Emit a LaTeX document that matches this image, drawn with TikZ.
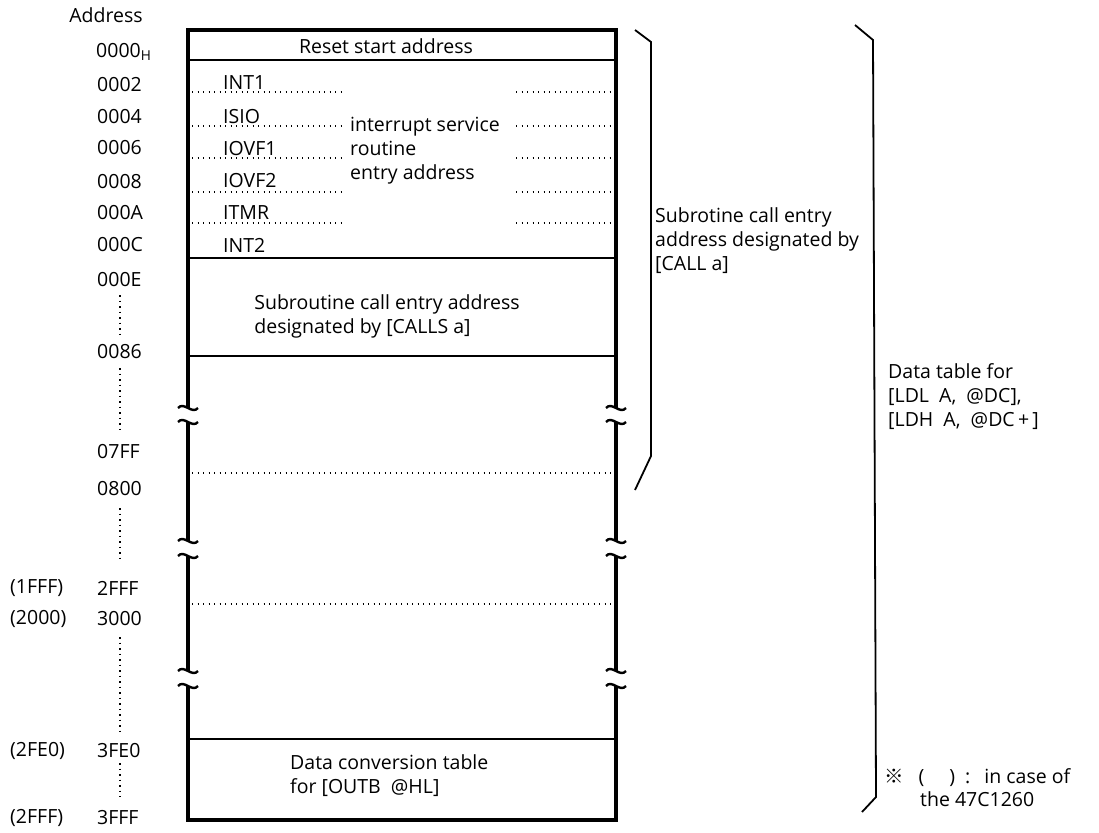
\documentclass[tikz,border=0pt]{standalone}
\usepackage{fontspec}
\setmainfont{Open Sans}
\newfontfamily\cjkfont{Noto Sans CJK JP}

\tikzset{
  memframe/.style={line width=3.2pt, line join=miter},
  rowline/.style={line width=1.5pt},
  breakmark/.style={line width=2.4pt},
  dotline/.style={line width=1.3pt, dash pattern=on 1.3pt off 4.2pt},
  addrdots/.style={line width=1.5pt, dash pattern=on 1.5pt off 4pt},
  bracket/.style={line width=1.8pt},
  lbl/.style={inner sep=0pt, font=\fontsize{19.5}{24}\selectfont},
}

\begin{document}
\begin{tikzpicture}[x=1pt, y=-1pt]
    \useasboundingbox (0,0) rectangle (1099,832);

    % Address column
    \node[lbl] (addr) at (106,15) {Address};
    \node[lbl, anchor=west] (a0000) at (96,52) {0000\textsubscript{H}};
    \foreach \y/\t in {85/0002, 117/0004, 148/0006, 182/0008, 213/000A, 245/000C,
                       280/000E, 352/0086, 452/07FF, 489/0800, 588/2FFF, 619/3000,
                       751/3FE0, 818/3FFF}
        \node[lbl, anchor=west] (a\t) at (97,\y) {\t};
    \foreach \y/\t in {588/1FFF, 619/2000, 751/2FE0, 818/2FFF}
        \node[lbl, anchor=west] (b\t) at (10,\y) {(\t)};
    \foreach \ya/\yb in {295/336, 368/433, 508/558, 637/735, 763/797}
        \draw[addrdots] (120,\ya) -- (120,\yb);

    % Memory map frame, broken on both sides
    \draw[memframe] (188,408) -- (188,30) -- (616,30) -- (616,408);
    \draw[memframe] (188,686) -- (188,820) -- (616,820) -- (616,686);
    \foreach \xs in {188,616} {
        \draw[memframe] (\xs,422) -- (\xs,541) (\xs,556) -- (\xs,671);
        \foreach \yb in {408,422,541,556,671,686}
            \draw[breakmark] (\xs-10,\yb) .. controls (\xs-4,\yb-7) and (\xs+4,\yb+7) .. (\xs+10,\yb);
    }

    % Rows
    \foreach \y in {60,258,356,739}
        \draw[rowline] (188,\y) -- (616,\y);
    \draw[dotline] (192,473) -- (612,473);
    \draw[dotline] (192,604) -- (612,604);

    % Reset and interrupt vectors
    \node[lbl] (reset) at (386,46) {Reset start address};
    \foreach \y/\t in {83/INT1, 117/ISIO, 149/IOVF1, 181/IOVF2, 213/ITMR, 245/INT2}
        \node[lbl, anchor=west] (v\t) at (223,\y) {\t};
    \foreach \y in {92,126,158,192,223} {
        \draw[dotline] (192,\y) -- (343,\y);
        \draw[dotline] (516,\y) -- (612,\y);
    }
    \node[lbl, anchor=north west, align=left] (isr) at (350,117)
        {interrupt service\\routine\\entry address};

    % CALLS table
    \node[lbl, align=left] (calls) at (387,316)
        {Subroutine call entry address\\designated by [CALLS a]};

    % Data conversion table
    \node[lbl, anchor=west, align=left] (outb) at (290,776)
        {Data conversion table\\for [OUTB\ \ @HL]};

    % Brackets on the right
    \draw[bracket] (635,30) -- (651,42) -- (651,456) -- (635,490);
    \node[lbl, anchor=north west, align=left] (call) at (655,207)
        {Subrotine call entry\\address designated by\\{[}CALL a]};
    \draw[bracket] (855,25) -- (873,40) -- (876,797) -- (862,812);
    \node[lbl, anchor=north west, align=left] (ldtab) at (888,363)
        {Data table for\\{[}LDL\ \ A,\ \ @DC],\\{[}LDH\ \ A,\ \ @DC\,+\,]};

    % Footnote
    \node[lbl, anchor=west] (note) at (884,778)
        {{\cjkfont ※}\hspace{15pt}(\hspace{25pt})\hspace{10pt}:\hspace{14pt}in case of};
    \node[lbl, anchor=west] (note2) at (920,799) {the 47C1260};
\end{tikzpicture}
\end{document}
